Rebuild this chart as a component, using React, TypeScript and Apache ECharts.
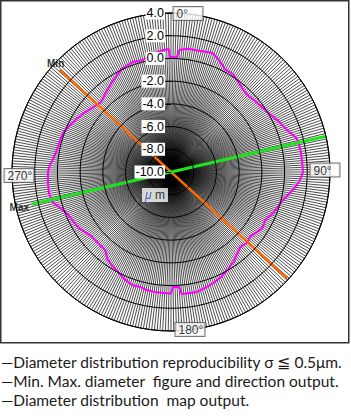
import React, { useEffect, useRef } from 'react';
import * as echarts from 'echarts';

// radial scale (µm deviation), ticks every 2.0
const radiusMin = -10;
const radiusMax = 4;
const radiusStep = 2;

// measured diameter-deviation profile: compass angle (deg) and value (µm)
const profileAngles = [
  0, 3, 4, 8, 13, 19, 23, 28, 32, 36, 40, 45, 50, 55, 60, 65, 70, 75, 80, 85,
  90, 94, 97, 100, 104, 108, 112, 117, 121, 125, 129, 133, 137, 140, 145, 150,
  155, 159, 163, 168, 172, 175, 176, 179, 180, 183, 188, 192, 195, 199, 204,
  208, 211, 216, 220, 226, 231, 235, 239, 244, 248, 252, 256, 260, 265, 270,
  273, 277, 282, 286, 290, 295, 300, 305, 310, 315, 320, 326, 330, 335, 341,
  346, 350, 355, 359, 359.5, 360,
];
const profileValues = [
  0.12, 0.14, 0.78, 0.95, 0.96, 1.1, 0.75, 0.2, 0.2, -0.05, -0.3, -0.45, -0.3,
  -0.15, 0.1, 0.5, 0.85, 1.45, 1.57, 1.58, 1.62, 1.35, 1.0, 0.64, 0.16, -0.1,
  -0.32, -0.7, -0.56, -0.77, -1.0, -0.85, -1.03, -0.82, -0.38, -0.06, 0.28,
  0.45, 0.61, 0.81, 0.78, 0.78, 0.16, 0.12, 0.7, 0.66, 0.66, 0.6, 0.48, 0.52,
  0.25, -0.04, -0.2, -0.48, -1.0, -1.04, -1.0, -0.77, -0.49, -0.32, -0.16,
  0.25, 0.8, 0.9, 0.88, 0.83, 0.7, 0.4, 0.2, 0.15, 0.1, -0.2, -0.5, -0.8, -1.1,
  -1.3, -1.0, -0.6, -0.3, 0.08, 0.25, 0.16, 0.47, 0.7, 0.83, 0.12, 0.12,
];

// min / max diameter directions: [radius value, angle]
const minDirection = [
  [3.3, 312.5],
  [3.9, 132.5],
];
const maxDirection = [
  [4.0, 77],
  [2.6, 257],
];

const compassLabels = ['0°', '90°', '180°', '270°'];
const compassAngles = [0, 90, 180, 270];

const notes = [
  '—Diameter distribution reproducibility σ ≦ 0.5μm.',
  '—Min. Max. diameter  figure and direction output.',
  '—Diameter distribution  map output.',
];

export default function App() {
  const ref = useRef<HTMLDivElement>(null);

  useEffect(() => {
    if (!ref.current) return;
    const chart = echarts.init(ref.current, null, { renderer: 'svg' });

    const profile = profileAngles.map((a, i) => [profileValues[i], a]);
    const compassOffsets = [
      [17, 0.5],
      [-5, -2],
      [19, -1.5],
      [7, 3.5],
    ];

    const option: any = {
      animation: false,
      backgroundColor: '#fff',
      polar: { center: [171, 172], radius: 159 },
      angleAxis: {
        type: 'value',
        min: 0,
        max: 360,
        interval: 1,
        startAngle: 90,
        clockwise: true,
        axisLine: { show: true, lineStyle: { color: '#000', width: 1 } },
        axisTick: { show: false },
        axisLabel: { show: false },
        splitLine: { show: true, lineStyle: { color: '#000', width: 0.7 } },
      },
      radiusAxis: {
        type: 'value',
        min: radiusMin,
        max: radiusMax,
        interval: radiusStep,
        z: 5,
        axisLine: { show: false },
        axisTick: { show: true, length: 5, lineStyle: { color: '#000' } },
        axisLabel: {
          show: true,
          margin: 6,
          formatter: (v: number) => v.toFixed(1),
          color: '#000',
          fontFamily: 'Liberation Sans, Arial, sans-serif',
          fontSize: 12.5,
          backgroundColor: '#fff',
          padding: [0, 1, 0, 1],
        },
        splitLine: { show: true, lineStyle: { color: '#000', width: 1 } },
      },
      series: [
        {
          type: 'line',
          coordinateSystem: 'polar',
          data: profile,
          showSymbol: false,
          symbol: 'none',
          z: 3,
          lineStyle: { color: '#ff00ff', width: 2 },
        },
        {
          type: 'line',
          coordinateSystem: 'polar',
          data: minDirection,
          symbol: 'none',
          z: 3,
          lineStyle: { color: '#ff6a00', width: 2.5 },
        },
        {
          type: 'line',
          coordinateSystem: 'polar',
          data: maxDirection,
          symbol: 'none',
          z: 3,
          lineStyle: { color: '#1ee21e', width: 3 },
        },
        {
          type: 'scatter',
          coordinateSystem: 'polar',
          symbolSize: 1,
          itemStyle: { color: 'rgba(0,0,0,0)' },
          z: 10,
          label: {
            show: true,
            position: 'inside',
            color: '#000',
            fontFamily: 'Liberation Sans, Arial, sans-serif',
            fontSize: 12,
            backgroundColor: '#fff',
            borderColor: '#555',
            borderWidth: 1,
            padding: [1, 2, 0, 3],
            formatter: (p: any) => `{b|${p.name}}`,
            rich: { b: { width: 24, align: 'left', fontSize: 12, color: '#000' } },
          },
          data: compassLabels.map((name, i) => ({
            name,
            value: [radiusMax, compassAngles[i]],
            label: { offset: compassOffsets[i] },
          })),
        },
        {
          type: 'scatter',
          coordinateSystem: 'polar',
          symbolSize: 1,
          itemStyle: { color: 'rgba(0,0,0,0)' },
          z: 10,
          label: {
            show: true,
            color: '#000',
            fontFamily: 'Liberation Sans, Arial, sans-serif',
            fontSize: 10,
            fontWeight: 'bold',
          },
          data: [
            {
              name: 'Min',
              value: minDirection[0],
              label: { position: 'top', distance: 1, offset: [-4, 0], formatter: 'Min' },
            },
            {
              name: 'Max',
              value: maxDirection[1],
              label: { position: 'left', distance: 2, offset: [0, 3], formatter: 'Max' },
            },
            {
              name: 'μm',
              value: [radiusMin, 0],
              label: {
                position: 'inside',
                offset: [-16, 23],
                formatter: '{mu|μ} m',
                backgroundColor: '#fff',
                padding: [1, 3, 1, 3],
                fontWeight: 'normal',
                fontSize: 12,
                rich: {
                  mu: { color: '#1a3fa8', fontStyle: 'italic', fontSize: 12 },
                },
              },
            },
          ],
        },
      ],
      graphic: [
        {
          type: 'rect',
          shape: { x: 0.75, y: 0.75, width: 348, height: 342 },
          style: { fill: 'none', stroke: '#333', lineWidth: 1.5 },
          z: 20,
        },
        ...notes.map((t, i) => ({
          type: 'text',
          x: 1,
          y: 362 + i * 19,
          style: {
            text: t,
            fill: '#1a1a1a',
            font: '15.5px Lato, "Noto Sans", sans-serif',
            textVerticalAlign: 'middle',
          },
        })),
      ],
    };

    chart.setOption(option);
    return () => chart.dispose();
  }, []);

  return (
    <div
      ref={ref}
      style={{ position: 'fixed', left: 0, top: 0, width: 351, height: 418 }}
    />
  );
}
